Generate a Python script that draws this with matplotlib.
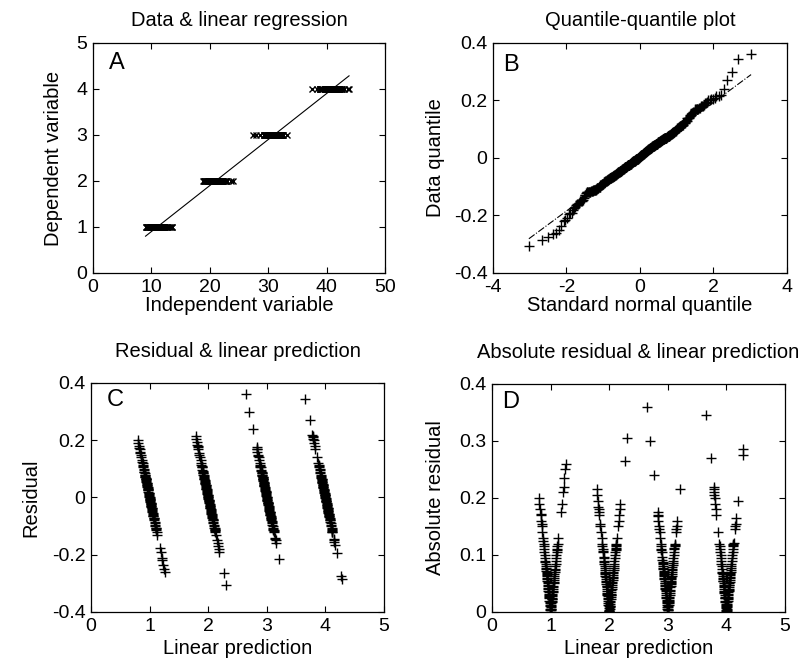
import numpy as np
import matplotlib
matplotlib.use("Agg")
import matplotlib.pyplot as plt
from statistics import NormalDist

plt.rcParams['font.family'] = ['Liberation Sans', 'DejaVu Sans']

# dependent variable levels (one group of points per level)
levels = [1, 2, 3, 4]

# fitted line: y = fit_a + fit_b * x
fit_a = -0.1
fit_b = 0.1

res_g1 = [0.20, 0.19, 0.18, 0.17, 0.172,
          0.16, 0.155, 0.15, 0.14, 0.13, 0.125, 0.12, 0.115, 0.11, 0.105,
          0.10, 0.095, 0.09, 0.088, 0.085, 0.08, 0.078, 0.075, 0.072, 0.07, 0.068, 0.066, 0.065, 0.063,
          0.06, 0.058, 0.055, 0.052, 0.05, 0.047, 0.045, 0.042, 0.04, 0.037, 0.035, 0.032, 0.03, 0.027,
          0.025, 0.02, 0.017, 0.013, 0.01, 0.006,
          0.003, 0.0, -0.003, -0.005, -0.008, -0.01, -0.013, -0.015, -0.018, -0.02, -0.023, -0.025,
          -0.028, -0.03, -0.032, -0.035, -0.037, -0.04,
          -0.043, -0.046, -0.05, -0.053, -0.056, -0.06, -0.063, -0.066, -0.07, -0.073, -0.076, -0.08,
          -0.085, -0.09, -0.095, -0.1, -0.105, -0.11, -0.115, -0.12, -0.108, -0.13,
          -0.175, -0.19, -0.21, -0.22, -0.235, -0.25, -0.26,
          0.015, -0.006, 0.028, -0.022]
res_g2 = [0.215, 0.205, 0.195, 0.185, 0.18, 0.17,
          0.175, 0.155, 0.15, 0.14, 0.13, 0.12, 0.115, 0.11, 0.105,
          0.107, 0.097, 0.094, 0.09, 0.087, 0.084, 0.08, 0.077, 0.074, 0.07, 0.068, 0.066, 0.064,
          0.061, 0.058, 0.055, 0.052, 0.049, 0.046, 0.043, 0.04, 0.037, 0.034, 0.031, 0.028, 0.025,
          0.022, 0.019, 0.016, 0.013, 0.01, 0.007,
          0.004, 0.001, -0.002, -0.005, -0.008, -0.011, -0.014, -0.017, -0.02, -0.023, -0.026,
          -0.029, -0.032, -0.035, -0.038, -0.041,
          -0.044, -0.047, -0.05, -0.053, -0.056, -0.059, -0.062, -0.065, -0.068, -0.071, -0.074,
          -0.077, -0.08,
          -0.085, -0.09, -0.095, -0.1, -0.105, -0.11, -0.115, -0.12,
          -0.108, -0.13, -0.118, -0.113, -0.15, -0.16, -0.17, -0.18, -0.19, -0.265, -0.305,
          0.03, -0.01, 0.045, -0.03, 0.0]
res_g3 = [0.36, 0.30, 0.24, 0.175, 0.17,
          0.168, 0.16, 0.15, 0.145, 0.14, 0.13, 0.12, 0.115, 0.11, 0.105,
          0.108, 0.096, 0.092, 0.088, 0.084, 0.08, 0.076, 0.072, 0.07, 0.068, 0.065, 0.063,
          0.06, 0.057, 0.054, 0.051, 0.048, 0.045, 0.042, 0.039, 0.036, 0.033, 0.03, 0.027, 0.024,
          0.021, 0.018, 0.015, 0.012, 0.009, 0.006,
          0.003, 0.0, -0.003, -0.006, -0.009, -0.012, -0.015, -0.018, -0.021, -0.024, -0.027,
          -0.03, -0.033, -0.036, -0.039,
          -0.043, -0.046, -0.049, -0.052, -0.055, -0.058, -0.061, -0.064, -0.067, -0.07, -0.073,
          -0.076, -0.079, -0.082,
          -0.086, -0.09, -0.095, -0.1, -0.105, -0.11, -0.115, -0.12,
          -0.112, -0.117, -0.14, -0.145, -0.15, -0.16, -0.215,
          0.066, 0.078, 0.02, 0.04, 0.05, -0.01, -0.02, -0.05, -0.06, 0.086]
res_g4 = [0.345, 0.27, 0.22, 0.215, 0.21, 0.205, 0.20, 0.17,
          0.19, 0.18, 0.14, 0.12, 0.115, 0.11, 0.105,
          0.10, 0.095, 0.09, 0.085, 0.08, 0.075, 0.07, 0.068, 0.066, 0.064,
          0.06, 0.057, 0.054, 0.05, 0.047, 0.044, 0.04, 0.037, 0.034, 0.03, 0.027, 0.024, 0.02,
          0.017, 0.014, 0.01, 0.007,
          0.004, 0.001, -0.002, -0.005, -0.008, -0.011, -0.014, -0.017, -0.02, -0.023, -0.026,
          -0.029, -0.032, -0.035, -0.038, -0.041,
          -0.044, -0.047, -0.05, -0.053, -0.056, -0.059, -0.062, -0.065, -0.068, -0.071, -0.074,
          -0.077, -0.08,
          -0.085, -0.09, -0.095, -0.1, -0.105, -0.11, -0.115, -0.12,
          -0.118, -0.121, -0.145, -0.15, -0.155, -0.165, -0.195, -0.275, -0.285,
          0.008, 0.012, 0.025, 0.035, 0.045, 0.055, -0.003, -0.012, -0.025, -0.037, -0.048, -0.066]

groups = [res_g1, res_g2, res_g3, res_g4]

# rebuild the raw data (x, y) and the linear prediction from the residuals
x_all, y_all, res_all = [], [], []
for lev, res in zip(levels, groups):
    r = np.array(res)
    y = np.full(len(r), float(lev))
    x = (y - r - fit_a) / fit_b
    x_all.append(x); y_all.append(y); res_all.append(r)
x_all = np.concatenate(x_all)
y_all = np.concatenate(y_all)
res_all = np.concatenate(res_all)
pred_all = fit_a + fit_b * x_all

fig = plt.figure(figsize=(8.05, 6.65), dpi=100)
axA = fig.add_axes([0.1155, 0.5895, 0.3627, 0.3459])
axB = fig.add_axes([0.6124, 0.5895, 0.3652, 0.3459])
axC = fig.add_axes([0.1130, 0.0797, 0.3640, 0.3444])
axD = fig.add_axes([0.6112, 0.0797, 0.3640, 0.3430])

tick_fs = 14
lab_fs = 14.5
tit_fs = 14.5
let_fs = 17

def style(ax):
    ax.tick_params(direction='in', length=4, width=0.8, top=True, right=True,
                   labelsize=tick_fs, pad=4)
    for s in ax.spines.values():
        s.set_linewidth(0.9)
    ax.xaxis.set_major_formatter(matplotlib.ticker.FormatStrFormatter('%g'))
    ax.yaxis.set_major_formatter(matplotlib.ticker.FormatStrFormatter('%g'))

# A: data & regression line
axA.plot(x_all, y_all, 'x', color='black', markersize=4.5, markeredgewidth=1.0)
xl = np.array([x_all.min(), x_all.max()])
axA.plot(xl, fit_a + fit_b * xl, '-', color='black', linewidth=0.8)
axA.set_xlim(0, 50); axA.set_ylim(0, 5)
axA.set_xticks([0, 10, 20, 30, 40, 50]); axA.set_yticks([0, 1, 2, 3, 4, 5])
axA.set_xlabel('Independent variable', fontsize=lab_fs, labelpad=0)
axA.set_ylabel('Dependent variable', fontsize=lab_fs, labelpad=10)
axA.set_title('Data & linear regression', fontsize=tit_fs, pad=12)
axA.text(0.055, 0.915, 'A', transform=axA.transAxes, fontsize=let_fs, va='center')
style(axA)

# B: quantile-quantile plot
srt = np.sort(res_all)
n = len(srt)
nd = NormalDist()
qn = np.array([nd.inv_cdf((i - 0.5) / n) for i in range(1, n + 1)])
q1x, q3x = np.percentile(qn, [25, 75])
q1y, q3y = np.percentile(srt, [25, 75])
slope = (q3y - q1y) / (q3x - q1x)
lx = np.array([qn.min(), qn.max()])
axB.plot(lx, q1y + slope * (lx - q1x), '-.', color='black', linewidth=0.8)
axB.plot(qn, srt, '+', color='black', markersize=6.5, markeredgewidth=1.0)
axB.set_xlim(-4, 4); axB.set_ylim(-0.4, 0.4)
axB.set_xticks([-4, -2, 0, 2, 4]); axB.set_yticks([-0.4, -0.2, 0, 0.2, 0.4])
axB.set_xlabel('Standard normal quantile', fontsize=lab_fs, labelpad=0)
axB.set_ylabel('Data quantile', fontsize=lab_fs, labelpad=6)
axB.set_title('Quantile-quantile plot', fontsize=tit_fs, pad=12)
axB.text(0.035, 0.905, 'B', transform=axB.transAxes, fontsize=let_fs, va='center')
style(axB)

# C: residual vs prediction
axC.plot(pred_all, res_all, '+', color='black', markersize=6.5, markeredgewidth=1.0)
axC.set_xlim(0, 5); axC.set_ylim(-0.4, 0.4)
axC.set_xticks([0, 1, 2, 3, 4, 5]); axC.set_yticks([-0.4, -0.2, 0, 0.2, 0.4])
axC.set_xlabel('Linear prediction', fontsize=lab_fs, labelpad=3)
axC.set_ylabel('Residual', fontsize=lab_fs, labelpad=8)
axC.set_title('Residual & linear prediction', fontsize=tit_fs, pad=19)
axC.text(0.055, 0.925, 'C', transform=axC.transAxes, fontsize=let_fs, va='center')
style(axC)

# D: absolute residual vs prediction
axD.plot(pred_all, np.abs(res_all), '+', color='black', markersize=6.5, markeredgewidth=1.0)
axD.set_xlim(0, 5); axD.set_ylim(0, 0.4)
axD.set_xticks([0, 1, 2, 3, 4, 5]); axD.set_yticks([0, 0.1, 0.2, 0.3, 0.4])
axD.set_xlabel('Linear prediction', fontsize=lab_fs, labelpad=3)
axD.set_ylabel('Absolute residual', fontsize=lab_fs, labelpad=10)
axD.set_title('Absolute residual & linear prediction', fontsize=tit_fs, pad=19)
axD.text(0.034, 0.92, 'D', transform=axD.transAxes, fontsize=let_fs, va='center')
style(axD)

fig.savefig('out.png', dpi=100)
